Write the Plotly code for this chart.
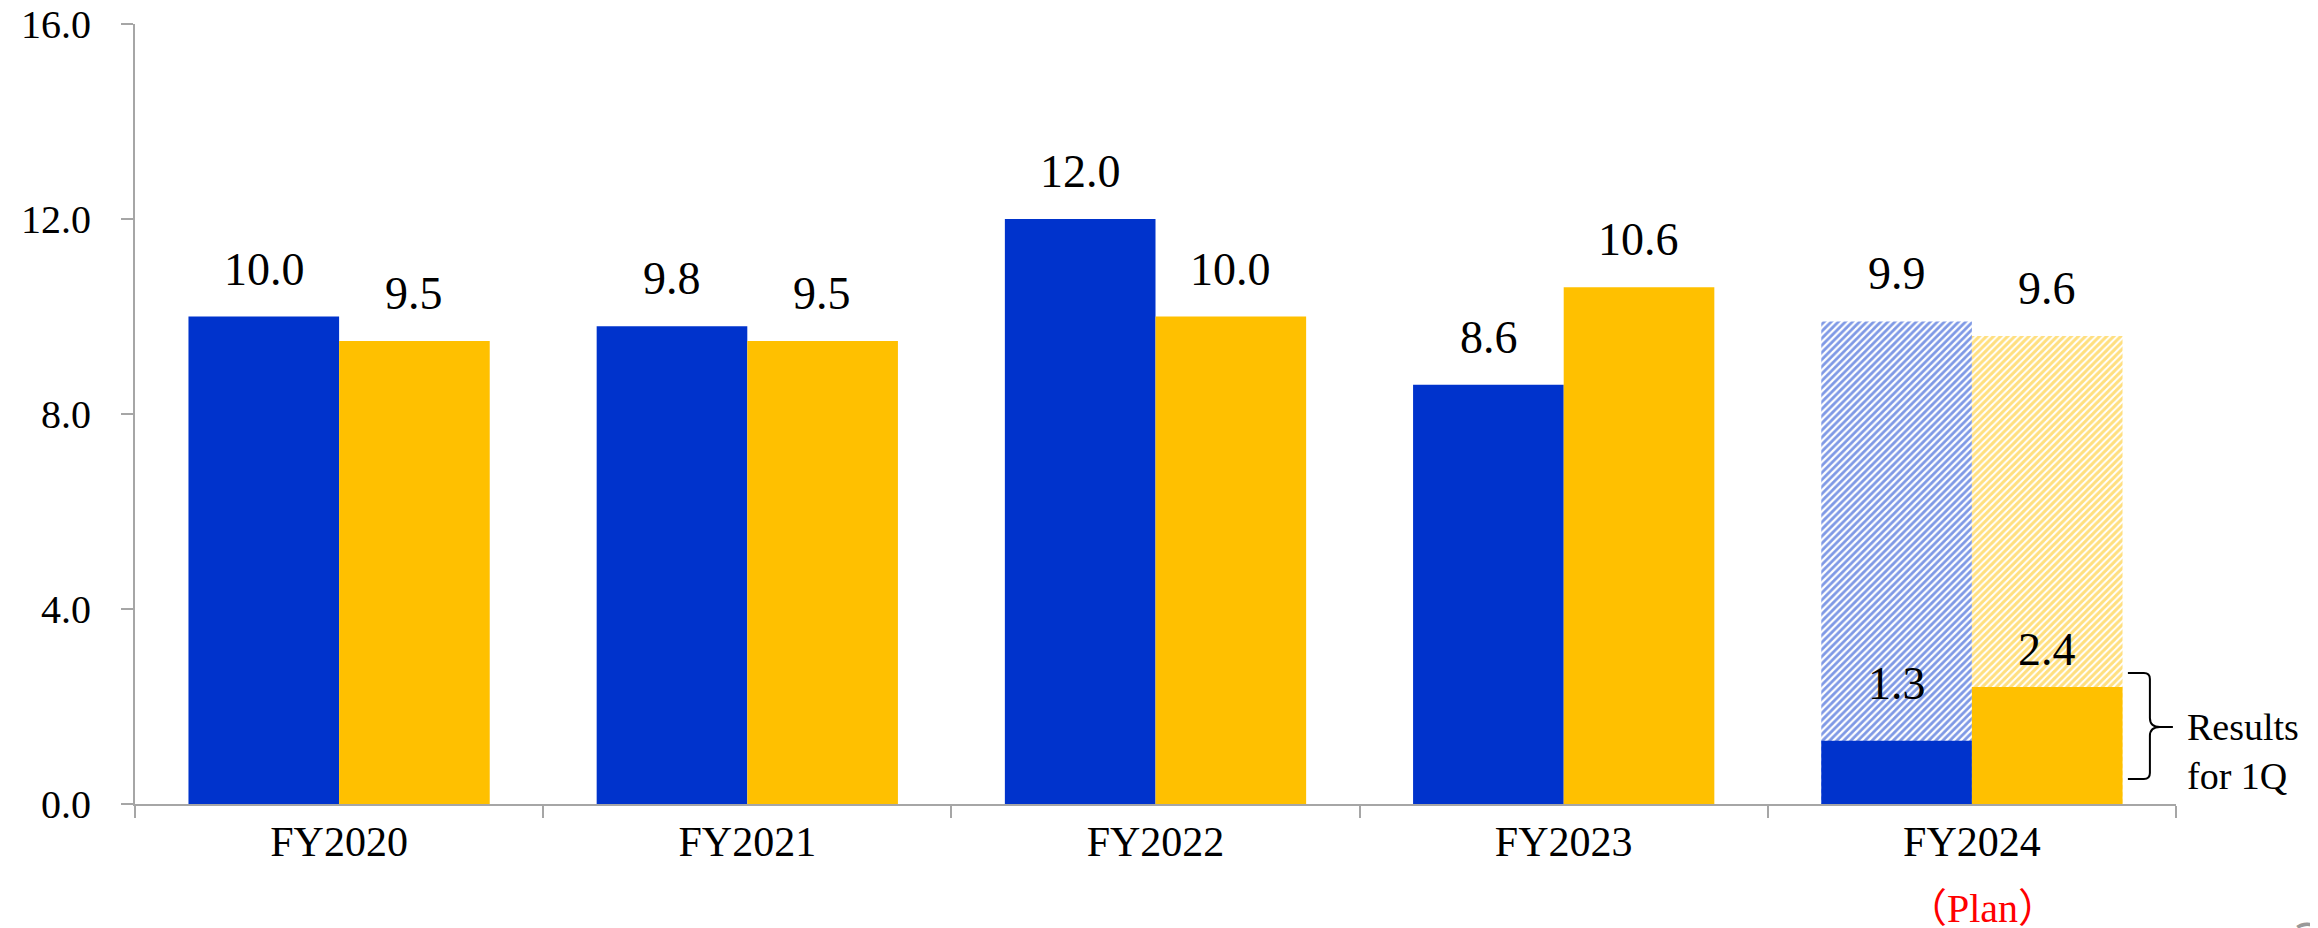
import plotly.graph_objects as go

categories = ["FY2020", "FY2021", "FY2022", "FY2023", "FY2024"]
blue_values = [10.0, 9.8, 12.0, 8.6, 1.3]      # FY2024 = results for 1Q
yellow_values = [9.5, 9.5, 10.0, 10.6, 2.4]    # FY2024 = results for 1Q
plan_category = "FY2024"
blue_plan = 9.9
yellow_plan = 9.6
y_ticks = [0, 4, 8, 12, 16]

BLUE = "#0033CC"
YELLOW = "#FFC000"
SERIF = "Liberation Serif, Times New Roman, serif"

fig = go.Figure()

# Plan (hatched) bars, drawn first
fig.add_trace(go.Bar(
    x=[plan_category], y=[blue_plan], offsetgroup="a",
    marker=dict(color="white", line=dict(width=0),
                pattern=dict(shape="/", fgcolor=BLUE, bgcolor="white", size=5, solidity=0.55)),
    hoverinfo="skip", showlegend=False))
fig.add_trace(go.Bar(
    x=[plan_category], y=[yellow_plan], offsetgroup="b",
    marker=dict(color="white", line=dict(width=0),
                pattern=dict(shape="/", fgcolor=YELLOW, bgcolor="white", size=5, solidity=0.6)),
    hoverinfo="skip", showlegend=False))

# Actual bars
fig.add_trace(go.Bar(x=categories, y=blue_values, offsetgroup="a",
                     marker=dict(color=BLUE, line=dict(width=0)), showlegend=False))
fig.add_trace(go.Bar(x=categories, y=yellow_values, offsetgroup="b",
                     marker=dict(color=YELLOW, line=dict(width=0)), showlegend=False))

annotations = []
label_font = dict(family=SERIF, size=46, color="black")
BAR_HALF = 75
for c, v in zip(categories, blue_values):
    if c == plan_category:
        continue
    annotations.append(dict(x=c, y=v, xref="x", yref="y", text=f"{v:.1f}", showarrow=False,
                            xshift=-BAR_HALF, yanchor="bottom", yshift=20, font=label_font))
for c, v in zip(categories, yellow_values):
    if c == plan_category:
        continue
    annotations.append(dict(x=c, y=v, xref="x", yref="y", text=f"{v:.1f}", showarrow=False,
                            xshift=BAR_HALF, yanchor="bottom", yshift=20, font=label_font))

# FY2024 plan labels
annotations.append(dict(x=plan_category, y=blue_plan, text=f"{blue_plan:.1f}", showarrow=False,
                        xshift=-BAR_HALF, yanchor="bottom", yshift=20, font=label_font))
annotations.append(dict(x=plan_category, y=yellow_plan, text=f"{yellow_plan:.1f}", showarrow=False,
                        xshift=BAR_HALF, yanchor="bottom", yshift=20, font=label_font))
# FY2024 1Q labels
annotations.append(dict(x=plan_category, y=blue_values[-1], text=f"{blue_values[-1]:.1f}", showarrow=False,
                        xshift=-BAR_HALF, yanchor="bottom", yshift=30, font=label_font))
annotations.append(dict(x=plan_category, y=yellow_values[-1], text=f"{yellow_values[-1]:.1f}", showarrow=False,
                        xshift=BAR_HALF, yanchor="bottom", yshift=10, font=label_font))

# Bracket note
annotations.append(dict(x=plan_category, xref="x", xshift=213, xanchor="left",
                        y=0.067, yref="paper", yanchor="middle", align="left",
                        text="Results<br>for 1Q", showarrow=False,
                        font=dict(family=SERIF, size=38, color="black")))
# (Plan)
annotations.append(dict(x=plan_category, xref="x", xshift=11,
                        y=-0.134, yref="paper", yanchor="middle",
                        text="（Plan）", showarrow=False,
                        font=dict(family="Liberation Serif, Noto Sans CJK JP, serif",
                                  size=40, color="#FF0000")))
# page number (cut off at the bottom edge in the original)
annotations.append(dict(x=1.057, xref="paper", xanchor="left", y=-0.128, yref="paper", yanchor="top",
                        text="3", showarrow=False,
                        font=dict(family="Noto Sans, sans-serif", size=48, color="#999999")))

bracket = ("M156,131 L172,131 Q178,131 178,125 L178,86 Q178,77 188,77 L201,77 "
           "M188,77 Q178,77 178,68 L178,31 Q178,25 172,25 L156,25")

fig.update_layout(
    width=2310, height=920,
    margin=dict(l=127, r=142, t=16, b=124, autoexpand=False),
    paper_bgcolor="white", plot_bgcolor="white",
    barmode="group", bargap=0.262, bargroupgap=0,
    showlegend=False,
    annotations=annotations,
    shapes=[dict(type="path", xref="x", yref="y", xsizemode="pixel", ysizemode="pixel",
                 xanchor=4, yanchor=0, path=bracket, line=dict(color="black", width=2))],
    xaxis=dict(type="category", categoryorder="array", categoryarray=categories,
               range=[-0.5, len(categories) - 0.5], automargin=False,
               showline=True, linecolor="#A6A6A6", linewidth=2,
               ticks="outside", tickson="boundaries", ticklen=12, tickcolor="#A6A6A6", tickwidth=2,
               showgrid=False, zeroline=False,
               tickfont=dict(family=SERIF, size=42, color="black")),
    yaxis=dict(range=[0, 16], tickvals=y_ticks, tickformat=".1f", automargin=False,
               ticklabeloverflow="allow",
               showline=True, linecolor="#A6A6A6", linewidth=2,
               ticks="outside", ticklen=12, tickcolor="#A6A6A6", tickwidth=2,
               showgrid=False, zeroline=False, ticklabelstandoff=22,
               tickfont=dict(family=SERIF, size=40, color="black")),
)

fig.write_html("out.html")
